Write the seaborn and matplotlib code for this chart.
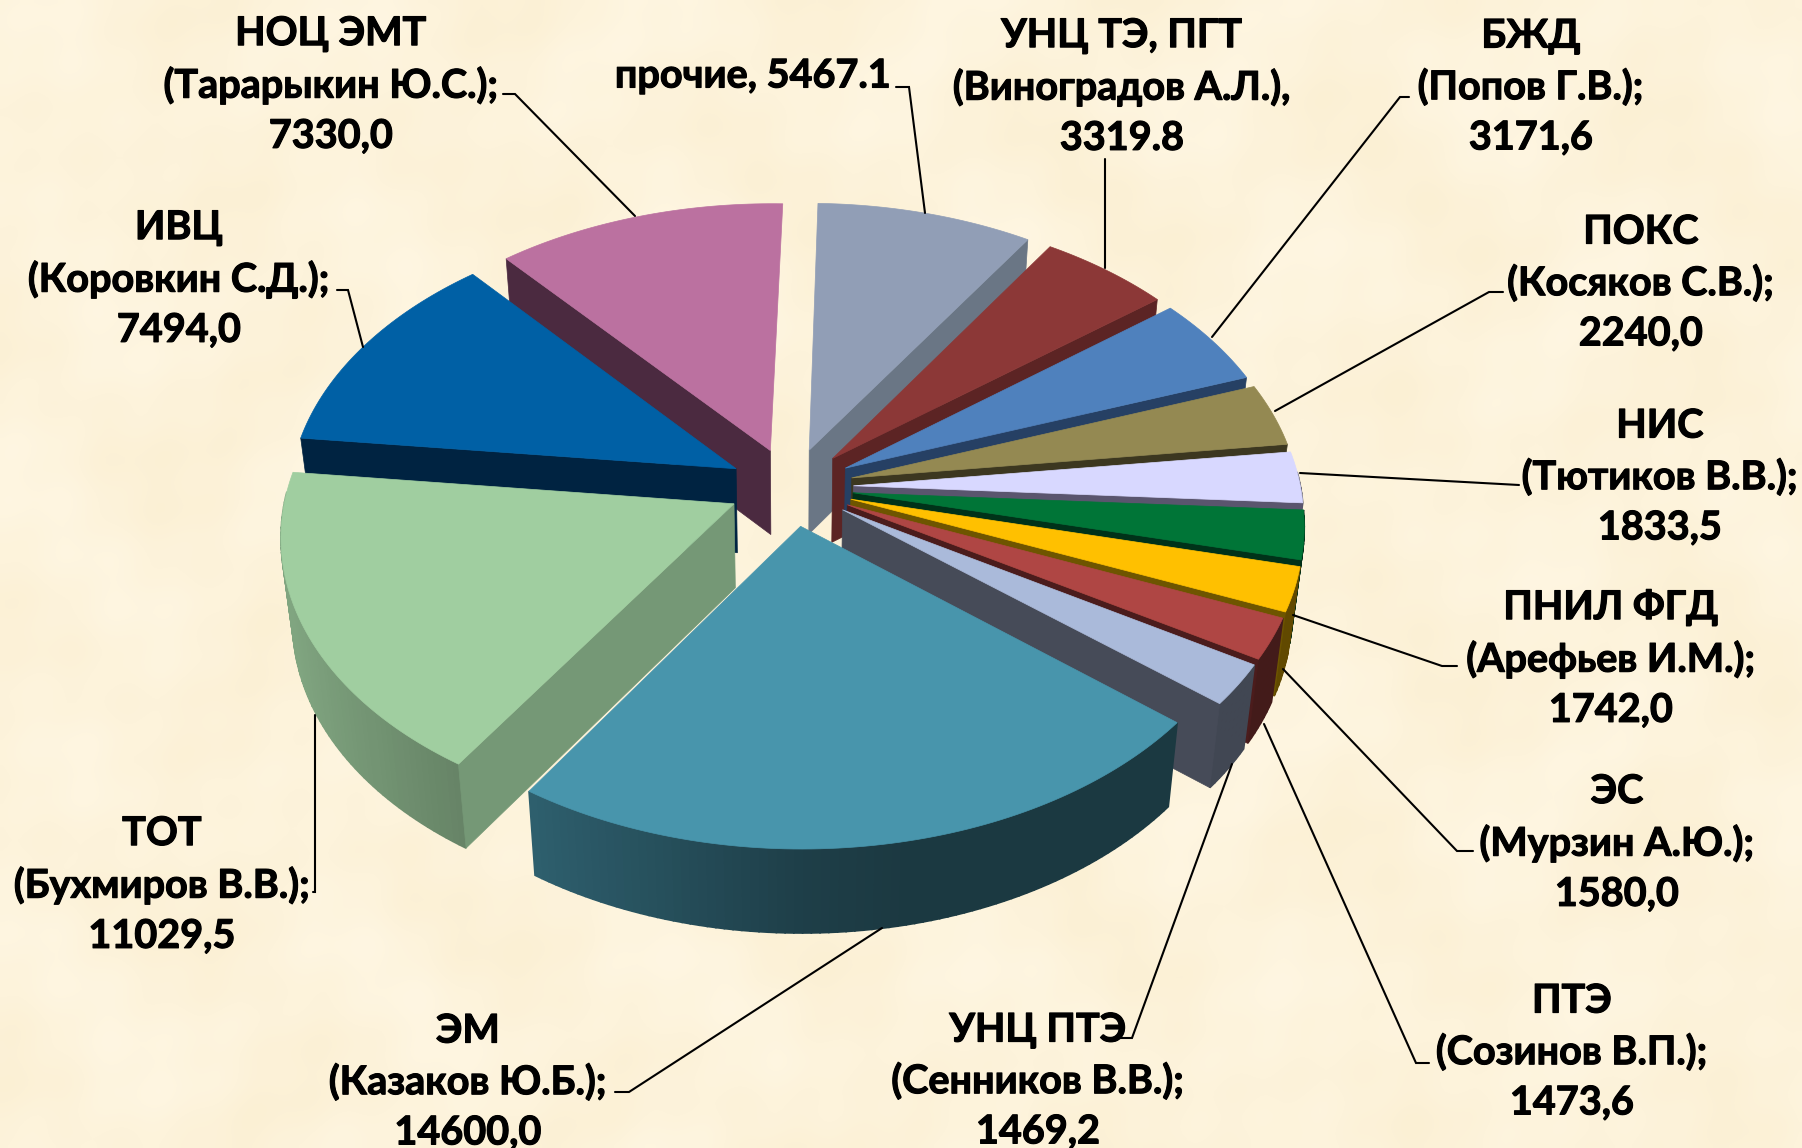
import numpy as np
import seaborn as sns
from matplotlib import patheffects as pe
from matplotlib import pyplot as plt

# slices, clockwise from 12 o'clock
values = [5467.1, 3319.8, 3171.6, 2240.0, 1833.5, 1742.0, 1580.0, 1473.6, 1469.2, 14600.0, 11029.5, 7494.0, 7330.0]
labels = [
    "прочие, 5467.1",
    "УНЦ ТЭ, ПГТ\n(Виноградов А.Л.),\n3319.8",
    "БЖД\n(Попов Г.В.);\n3171,6",
    "ПОКС\n(Косяков С.В.);\n2240,0",
    "НИС\n(Тютиков В.В.);\n1833,5",
    "ПНИЛ ФГД\n(Арефьев И.М.);\n1742,0",
    "ЭС\n(Мурзин А.Ю.);\n1580,0",
    "ПТЭ\n(Созинов В.П.);\n1473,6",
    "УНЦ ПТЭ\n(Сенников В.В.);\n1469,2",
    "ЭМ\n(Казаков Ю.Б.);\n14600,0",
    "ТОТ\n(Бухмиров В.В.);\n11029,5",
    "ИВЦ\n(Коровкин С.Д.);\n7494,0",
    "НОЦ ЭМТ\n(Тарарыкин Ю.С.);\n7330,0",
]
top_hex = ["#919eb6", "#8c3837", "#4f81bd", "#948952", "#d8d8ff", "#007537", "#ffc000",
           "#af4644", "#aabada", "#4895ac", "#a0cea0", "#0060a5", "#bb71a0"]
side_hex = ["#6a7685", "#5c2424", "#264064", "#3c3720", "#5a556e", "#003219", "#6e5500",
            "#4b1c1c", "#464b58", "#1c3a44", "#759876", "#002341", "#4b2a40"]

# label centres and leader lines in picture pixels
label_xy = [(753, 76), (1122, 87), (1531, 87), (1641, 283), (1660, 477), (1611, 659), (1617, 843),
            (1572, 1052), (1038, 1081), (468, 1082), (162, 885), (179, 279), (331, 85)]
leaders = [
    [(896, 87), (909, 87), (925, 213)],
    [(1105, 159), (1105, 268)],
    [(1409, 97), (1400, 97), (1212, 337)],
    [(1503, 292), (1489, 292), (1275, 411)],
    [(1519, 485), (1300, 473)],
    [(1457, 666), (1442, 666), (1293, 615)],
    [(1473, 851), (1457, 851), (1283, 669)],
    [(1429, 1063), (1416, 1063), (1264, 724)],
    [(1117, 1038), (1132, 1038), (1232, 764)],
    [(615, 1092), (629, 1092), (882, 928)],
    [(313, 892), (315, 892), (315, 715)],
    [(337, 290), (348, 290), (363, 347)],
    [(503, 94), (515, 94), (635, 216)],
]

sns.set_theme(style="white")
plt.rcParams["font.family"] = ["Lato", "Open Sans", "DejaVu Sans"]
top_colors = sns.color_palette(top_hex)
side_colors = sns.color_palette(side_hex)

# pie projection settings
CX, CY = 791, 487
RX, RY = 447, 280
PERSP = 0.105
EXPLODE = 0.14
HEIGHT = 84
TAPER = 0.977
START = 1.5


def project(x, y):
    s = 1 / (1 + PERSP * y)
    return CX + RX * x * s, CY - RY * y * s


def drop(px, py):
    # same point on the underside of the pie
    return CX + (px - CX) * TAPER, py + HEIGHT


def slice_xy(theta, bis, r=1.0):
    x = EXPLODE * np.sin(bis) + r * np.sin(theta)
    y = EXPLODE * np.cos(bis) + r * np.cos(theta)
    return project(x, y)


fig = plt.figure(figsize=(18.02, 11.48), dpi=100)
ax = fig.add_axes([0, 0, 1, 1])

# mottled paper background
yy, xx = np.mgrid[0:1148:6, 0:1802:6]
paper = (np.sin(xx / 47 + 1.3 * np.sin(yy / 61)) + np.sin(yy / 38 + 1.7 * np.cos(xx / 53))
         + 0.6 * np.sin((xx + yy) / 17) * np.cos((xx - yy) / 23))
paper = paper / np.abs(paper).max()
bg = np.dstack([253 + 1.5 * paper, 243 + 3 * paper, 219 + 7 * paper]) / 255
ax.imshow(np.clip(bg, 0, 1), extent=(0, 1802, 1148, 0), aspect="auto", interpolation="bilinear", zorder=0)

edges = np.radians(START + np.concatenate([[0], np.cumsum(values)]) / np.sum(values) * 360)
mids = (edges[:-1] + edges[1:]) / 2
order = np.argsort(-np.cos(mids))

z = 1
for i in order:
    a0, a1, bis = edges[i], edges[i + 1], mids[i]
    thetas = np.linspace(a0, a1, max(int(np.degrees(a1 - a0)), 2) + 1)
    rim = [slice_xy(t, bis) for t in thetas]
    apex = slice_xy(bis, bis, 0.0)

    # outer wall, split in strips for the shading
    for t0, t1, p0, p1 in zip(thetas[:-1], thetas[1:], rim[:-1], rim[1:]):
        if np.cos((t0 + t1) / 2) < 0.05:
            f = np.interp(np.sin((t0 + t1) / 2), [-0.95, -0.5, 0, 0.2, 1], [0.8, 0.62, 0.42, 0.38, 0.38])
            col = tuple(c * f for c in top_colors[i])
            quad = [p0, p1, drop(*p1), drop(*p0)]
            ax.fill(*zip(*quad), color=col, lw=1.2, zorder=z)

    # radial wall that faces the viewer
    if np.sin(a0 - np.radians(START)) < -1e-6:
        quad = [apex, rim[0], drop(*rim[0]), drop(*apex)]
        ax.fill(*zip(*quad), color=side_colors[i], lw=0.5, zorder=z)
    if np.sin(a1 - np.radians(START)) > 1e-6:
        quad = [apex, rim[-1], drop(*rim[-1]), drop(*apex)]
        ax.fill(*zip(*quad), color=side_colors[i], lw=0.5, zorder=z)

    ax.fill(*zip(*([apex] + rim)), color=top_colors[i], lw=0.5, zorder=z)
    z += 1

for pts in leaders:
    ax.plot(*zip(*pts), color="black", lw=1.5, zorder=50, solid_joinstyle="miter")

for txt, (lx, ly) in zip(labels, label_xy):
    ax.text(lx, ly, txt, ha="center", va="center", fontsize=28.5, fontweight="bold",
            color="black", linespacing=1.44, zorder=60,
            path_effects=[pe.withStroke(linewidth=0.8, foreground="black")])

ax.set_xlim(0, 1802)
ax.set_ylim(1148, 0)
ax.axis("off")
fig.savefig("out.png", dpi=100)
